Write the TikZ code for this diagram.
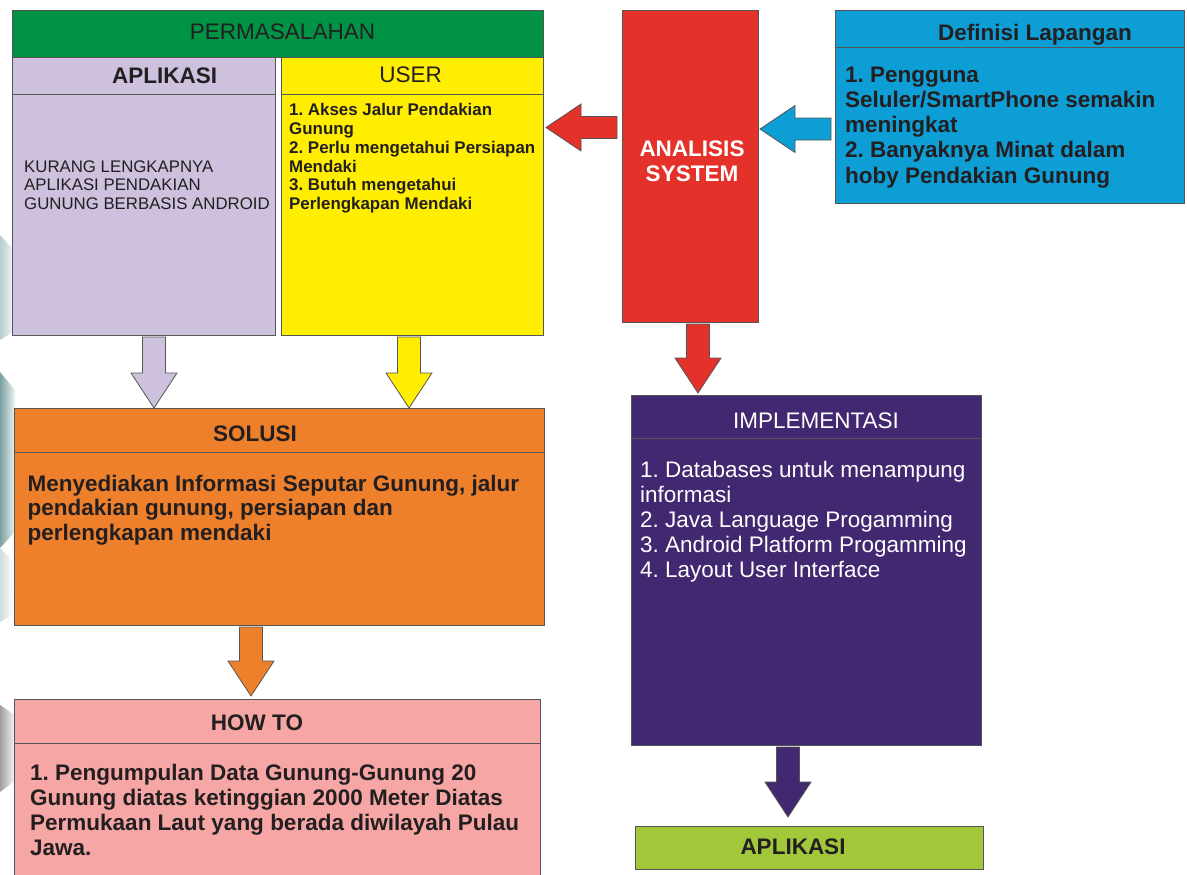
\documentclass[tikz,border=0pt]{standalone}
\usepackage{fontspec}
\setmainfont{Liberation Sans}
\usetikzlibrary{calc,fadings}
\definecolor{cgreen}{RGB}{0,146,69}
\definecolor{clav}{RGB}{205,193,221}
\definecolor{cyel}{RGB}{255,238,0}
\definecolor{cred}{RGB}{228,50,43}
\definecolor{cblue}{RGB}{14,158,214}
\definecolor{corange}{RGB}{238,128,44}
\definecolor{cpink}{RGB}{246,166,165}
\definecolor{cpurple}{RGB}{66,40,112}
\definecolor{clime}{RGB}{162,199,58}
\definecolor{cline}{RGB}{85,85,85}
\definecolor{ctext}{RGB}{35,31,32}
\definecolor{cblob}{RGB}{100,145,145}
\tikzset{
  box/.style={draw=cline, line width=0.9pt, inner sep=0pt, outer sep=0pt, anchor=north west},
  divline/.style={draw=cline, line width=0.9pt},
  big/.style={inner sep=0pt, text=ctext, font=\fontsize{22.5}{25}\selectfont},
  bigb/.style={big, font=\fontsize{22.5}{25}\selectfont\bfseries},
  small/.style={inner sep=0pt, text=ctext, font=\fontsize{16.8}{19}\selectfont},
  smallb/.style={small, font=\fontsize{16.9}{19}\selectfont\bfseries},
  blk/.style={draw=cline, line width=0.8pt, line join=miter},
  blob/.style={path fading=east}
}
\newcommand\blkdown[3]{%
  \filldraw[blk, fill=#3] let \p1=(#1), \p2=(#2) in
    (\x2-11.5pt,\y1) -- (\x2+11.5pt,\y1) -- (\x2+11.5pt,\y2+35pt) -- (\x2+23pt,\y2+35pt)
    -- (\x2,\y2) -- (\x2-23pt,\y2+35pt) -- (\x2-11.5pt,\y2+35pt) -- cycle;}
\newcommand\blkleft[3]{%
  \filldraw[blk, fill=#3] let \p1=(#1), \p2=(#2) in
    (\x1,\y2-11pt) -- (\x1,\y2+11pt) -- (\x2+35pt,\y2+11pt) -- (\x2+35pt,\y2+23.5pt)
    -- (\x2,\y2) -- (\x2+35pt,\y2-23.5pt) -- (\x2+35pt,\y2-11pt) -- cycle;}
\begin{document}
\frenchspacing
\begin{tikzpicture}[x=1pt, y=-1pt]
\clip (0,0) rectangle (1187,875);
\fill[white] (0,0) rectangle (1187,875);
% faint background remnants at the left edge
\fill[cblob!45, blob] (0,235) -- (14,250) -- (16,330) -- (0,340) -- cycle;
\fill[cblob!85, blob] (0,372) -- (15,390) -- (17,530) -- (0,548) -- cycle;
\fill[cblob!30, blob] (0,548) -- (12,560) -- (13,615) -- (0,622) -- cycle;
\fill[gray!75, blob] (0,705) -- (15,715) -- (16,780) -- (0,792) -- cycle;

% boxes
\node[box, fill=cgreen, minimum width=531pt, minimum height=47pt] (perm) at (12,10) {};
\node[box, fill=clav, minimum width=263pt, minimum height=278pt] (apl) at (12,57) {};
\node[box, fill=cyel, minimum width=262pt, minimum height=278pt] (user) at (281,57) {};
\node[box, fill=cred, minimum width=136pt, minimum height=312pt] (ana) at (622,10) {};
\node[box, fill=cblue, minimum width=349pt, minimum height=193pt] (def) at (835,10) {};
\node[box, fill=corange, minimum width=530pt, minimum height=217pt] (sol) at (14,408) {};
\node[box, fill=cpink, minimum width=526pt, minimum height=190pt] (how) at (14,699) {};
\node[box, fill=cpurple, minimum width=350pt, minimum height=350pt] (impl) at (631,395) {};
\node[box, fill=clime, minimum width=348pt, minimum height=43pt] (app) at (635,826) {};

% header dividers
\draw[divline] ($(apl.north west)+(0,37)$) -- ($(apl.north east)+(0,37)$);
\draw[divline] ($(user.north west)+(0,37)$) -- ($(user.north east)+(0,37)$);
\draw[divline] ($(def.north west)+(0,37)$) -- ($(def.north east)+(0,37)$);
\draw[divline] ($(sol.north west)+(0,44)$) -- ($(sol.north east)+(0,44)$);
\draw[divline] ($(how.north west)+(0,44)$) -- ($(how.north east)+(0,44)$);
\draw[divline] ($(impl.north west)+(0,43)$) -- ($(impl.north east)+(0,43)$);

% headers
\node[big, anchor=base] (tperm) at (282.5,40) {PERMASALAHAN};
\node[bigb, anchor=base] (tapl) at (164.6,84) {APLIKASI};
\node[big, anchor=base] (tuser) at (410.6,82) {USER};
\node[bigb, anchor=base] (tdef) at (1035,41) {Definisi Lapangan};
\node[bigb, anchor=base, text=white] (tana1) at (692,156) {ANALISIS};
\node[bigb, anchor=base, text=white] (tana2) at (692,181) {SYSTEM};
\node[bigb, anchor=base] (tsol) at (255,441) {SOLUSI};
\node[bigb, anchor=base] (thow) at (257,730) {HOW TO};
\node[big, anchor=base, text=white] (timpl) at (816,428) {IMPLEMENTASI};
\node[bigb, anchor=base] (tapp) at (793,854) {APLIKASI};

% body texts
\foreach \t [count=\i] in {KURANG LENGKAPNYA, APLIKASI PENDAKIAN, GUNUNG BERBASIS ANDROID}
  \node[small, anchor=base west] (apl\i) at (24,{172+18.7*(\i-1)}) {\t};
\foreach \t [count=\i] in {1. Akses Jalur Pendakian, Gunung, 2. Perlu mengetahui Persiapan, Mendaki, 3. Butuh mengetahui, Perlengkapan Mendaki}
  \node[smallb, anchor=base west] (user\i) at (289,{116+18.7*(\i-1)}) {\t};
\foreach \t [count=\i] in {1. Pengguna, Seluler/SmartPhone semakin, meningkat, 2. Banyaknya Minat dalam, hoby Pendakian Gunung}
  \node[bigb, anchor=base west] (def\i) at (845,{82+25.25*(\i-1)}) {\t};
\foreach \t [count=\i] in {{Menyediakan Informasi Seputar Gunung, jalur}, {pendakian gunung, persiapan dan}, perlengkapan mendaki}
  \node[bigb, anchor=base west] (sol\i) at (27.5,{491+24.5*(\i-1)}) {\t};
\foreach \t [count=\i] in {1. Pengumpulan Data Gunung-Gunung 20, Gunung diatas ketinggian 2000 Meter Diatas, Permukaan Laut yang berada diwilayah Pulau, Jawa.}
  \node[bigb, anchor=base west] (how\i) at (30,{780+25*(\i-1)}) {\t};
\foreach \t [count=\i] in {1. Databases untuk menampung, informasi, 2. Java Language Progamming, 3. Android Platform Progamming, 4. Layout User Interface}
  \node[big, anchor=base west, text=white] (impl\i) at (640,{477+25*(\i-1)}) {\t};

% connector positions
\coordinate (xa) at (154,0);
\coordinate (xb) at (409,0);
\coordinate (xc) at (251,0);
\coordinate (xd) at (698,0);
\coordinate (xe) at (788,0);
\coordinate (ya) at (0,127.5);
\coordinate (yb) at (0,129);

% block arrows
\blkdown{$(apl.south -| xa)+(0,2)$}{sol.north -| xa}{clav}
\blkdown{$(user.south -| xb)+(0,2)$}{sol.north -| xb}{cyel}
\blkdown{$(sol.south -| xc)+(0,2)$}{$(how.north -| xc)+(0,-3)$}{corange}
\blkdown{$(ana.south -| xd)+(0,2)$}{$(impl.north -| xd)+(0,-2)$}{cred}
\blkdown{$(impl.south -| xe)+(0,2)$}{$(app.north -| xe)+(0,-9)$}{cpurple}
\blkleft{$(ana.west |- ya)+(-5,0)$}{$(user.east |- ya)+(3,0)$}{cred}
\blkleft{$(def.west |- yb)+(-4,0)$}{$(ana.east |- yb)+(2,0)$}{cblue}
\end{tikzpicture}
\end{document}
